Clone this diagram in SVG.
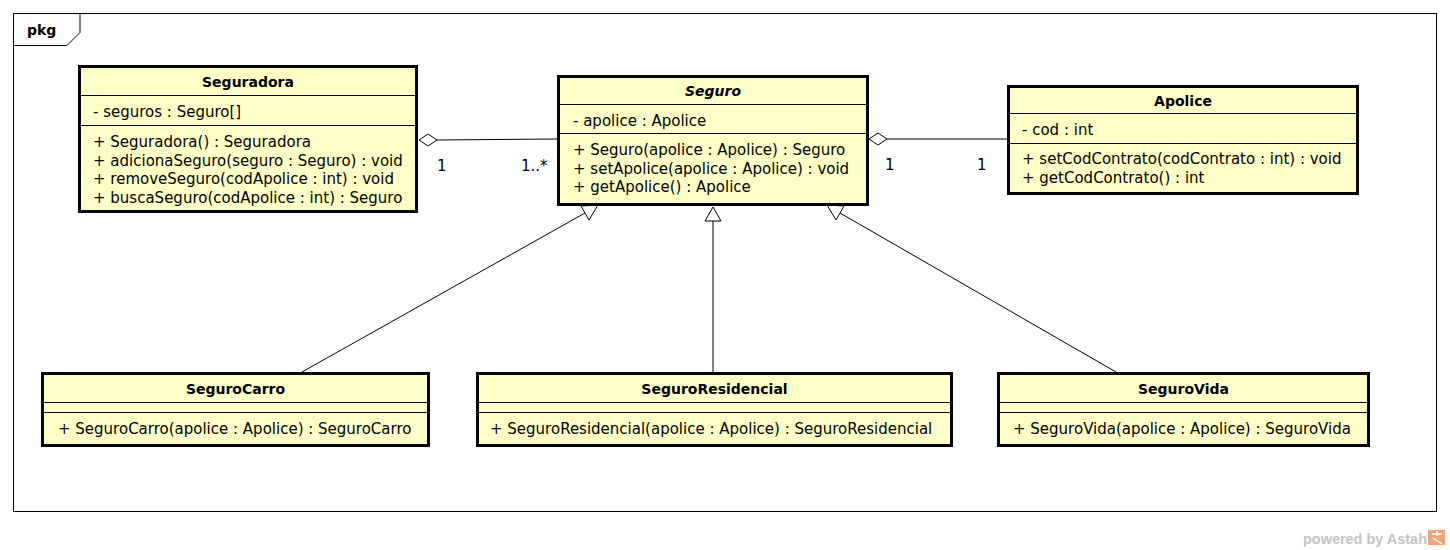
<svg xmlns="http://www.w3.org/2000/svg" width="1450" height="550" viewBox="0 0 1450 550">
<style>
.box{fill:#ffffc8;stroke:#000;stroke-width:3}
.sep{stroke:#000;stroke-width:1}
.t{font-family:"DejaVu Sans","Liberation Sans",sans-serif;font-size:14px;font-weight:bold;fill:#000;text-anchor:middle}
.m{font-family:"DejaVu Sans","Liberation Sans",sans-serif;font-size:15px;fill:#000}
.ln{stroke:#000;stroke-width:1;fill:none}
.hd{stroke:#000;stroke-width:1;fill:#fff}
</style>
<rect x="0" y="0" width="1450" height="550" fill="#fff"/>
<g id="frame">
<rect x="13.5" y="13.5" width="1423" height="498" fill="none" stroke="#000" stroke-width="1"/>
<path d="M13.5,45.5 H67 L80,32.5 V13.5" fill="none" stroke="#000" stroke-width="1"/>
<text x="27" y="35" class="m" style="font-weight:bold;font-size:14px">pkg</text>
</g>
<g id="connectors">
<line class="ln" x1="437" y1="140" x2="557" y2="139"/>
<polygon class="hd" points="419,140 428,134 437,140 428,146"/>
<text x="437" y="171" class="m">1</text>
<text x="521" y="171" class="m">1..*</text>
<line class="ln" x1="887" y1="139" x2="1007" y2="139"/>
<polygon class="hd" points="869,139 878,133 887,139 878,145"/>
<text x="885" y="170" class="m">1</text>
<text x="977" y="170" class="m">1</text>
<line class="ln" x1="302" y1="372" x2="585" y2="213"/>
<polygon class="hd" points="581,206 589,220 598,205"/>
<line class="ln" x1="713" y1="372" x2="713" y2="221"/>
<polygon class="hd" points="705,221 721,221 713,207"/>
<line class="ln" x1="1116" y1="372" x2="840" y2="213"/>
<polygon class="hd" points="844,206 836,220 827,205"/>
</g>
<g id="Seguradora">
<rect class="box" x="79.5" y="66.5" width="337" height="145"/>
<line class="sep" x1="79" y1="95.5" x2="417" y2="95.5"/>
<line class="sep" x1="79" y1="125.5" x2="417" y2="125.5"/>
<text x="248" y="87" class="t">Seguradora</text>
<text x="93" y="117" class="m">- seguros : Seguro[]</text>
<text x="93" y="147" class="m">+ Seguradora() : Seguradora</text>
<text x="93" y="165.7" class="m">+ adicionaSeguro(seguro : Seguro) : void</text>
<text x="93" y="184.3" class="m">+ removeSeguro(codApolice : int) : void</text>
<text x="93" y="203" class="m">+ buscaSeguro(codApolice : int) : Seguro</text>
</g>
<g id="Seguro">
<rect class="box" x="558.5" y="76.5" width="309" height="128"/>
<line class="sep" x1="558" y1="104.5" x2="868" y2="104.5"/>
<line class="sep" x1="558" y1="133.5" x2="868" y2="133.5"/>
<text x="713" y="96" class="t" style="font-style:italic">Seguro</text>
<text x="573" y="126" class="m">- apolice : Apolice</text>
<text x="573" y="155" class="m">+ Seguro(apolice : Apolice) : Seguro</text>
<text x="573" y="173.5" class="m">+ setApolice(apolice : Apolice) : void</text>
<text x="573" y="192" class="m">+ getApolice() : Apolice</text>
</g>
<g id="Apolice">
<rect class="box" x="1008.5" y="86.5" width="349" height="107"/>
<line class="sep" x1="1008" y1="113.5" x2="1358" y2="113.5"/>
<line class="sep" x1="1008" y1="143.5" x2="1358" y2="143.5"/>
<text x="1183" y="106" class="t">Apolice</text>
<text x="1022" y="135" class="m">- cod : int</text>
<text x="1022" y="164" class="m">+ setCodContrato(codContrato : int) : void</text>
<text x="1022" y="183" class="m">+ getCodContrato() : int</text>
</g>
<g id="SeguroCarro">
<rect class="box" x="42.5" y="373.5" width="386" height="72"/>
<line class="sep" x1="42" y1="402.5" x2="429" y2="402.5"/>
<line class="sep" x1="42" y1="412.5" x2="429" y2="412.5"/>
<text x="235.5" y="394" class="t">SeguroCarro</text>
<text x="58" y="434" class="m">+ SeguroCarro(apolice : Apolice) : SeguroCarro</text>
</g>
<g id="SeguroResidencial">
<rect class="box" x="477.5" y="373.5" width="474" height="72"/>
<line class="sep" x1="477" y1="402.5" x2="952" y2="402.5"/>
<line class="sep" x1="477" y1="412.5" x2="952" y2="412.5"/>
<text x="714.5" y="394" class="t">SeguroResidencial</text>
<text x="490" y="434" class="m">+ SeguroResidencial(apolice : Apolice) : SeguroResidencial</text>
</g>
<g id="SeguroVida">
<rect class="box" x="998.5" y="373.5" width="370" height="72"/>
<line class="sep" x1="998" y1="402.5" x2="1369" y2="402.5"/>
<line class="sep" x1="998" y1="412.5" x2="1369" y2="412.5"/>
<text x="1183.5" y="394" class="t">SeguroVida</text>
<text x="1013" y="434" class="m">+ SeguroVida(apolice : Apolice) : SeguroVida</text>
</g>
<g id="watermark">
<text x="1303" y="544" textLength="124" lengthAdjust="spacingAndGlyphs" style="font-family:'Liberation Sans',Arial,sans-serif;font-size:14px;font-weight:bold;fill:#c4c4c4">powered by Astah</text>
<rect x="1428" y="530" width="17" height="15" fill="#f0a47a"/>
<path d="M1432,534 H1442 M1437,531 V536 M1433,538 L1442,544" stroke="#fff" stroke-width="1.5" fill="none"/>
</g>
</svg>
